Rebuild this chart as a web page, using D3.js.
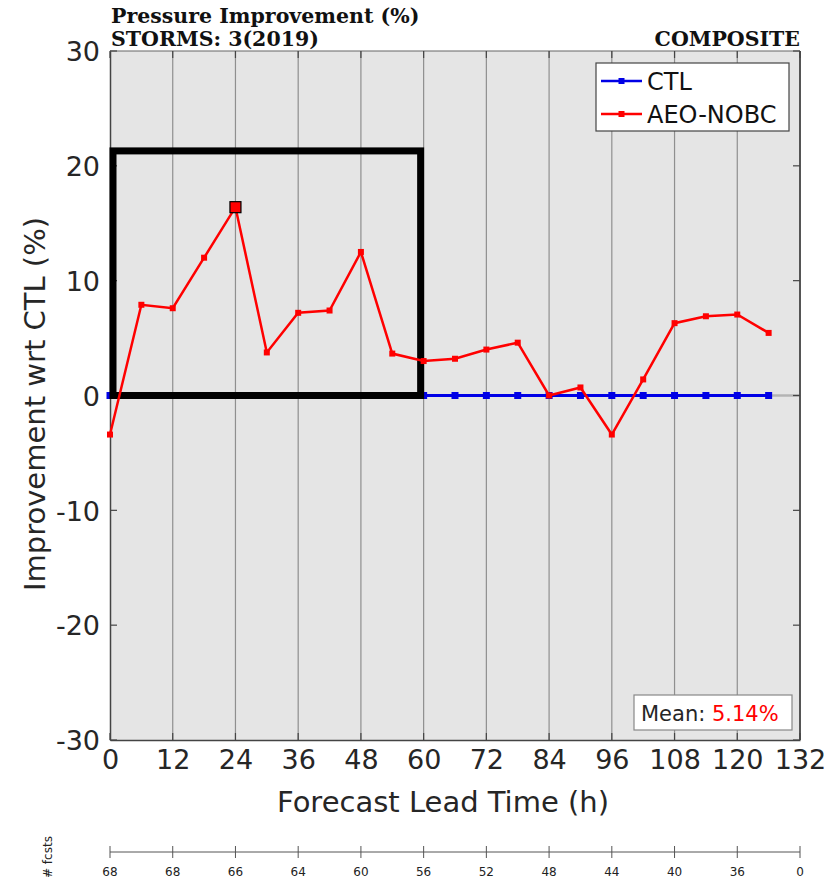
<!DOCTYPE html>
<html>
<head>
<meta charset="utf-8">
<script src="https://cdn.jsdelivr.net/npm/d3@7"></script>
<style>
  body { margin: 0; background: #fff; }
  svg { display: block; }
</style>
</head>
<body>
<svg id="chart" width="828" height="881"></svg>
<script>
// Forecast lead times (h) and pressure improvement relative to CTL (%)
const leadHours = [0, 6, 12, 18, 24, 30, 36, 42, 48, 54, 60, 66, 72, 78, 84, 90, 96, 102, 108, 114, 120, 126];
const ctlValues = [0, 0, 0, 0, 0, 0, 0, 0, 0, 0, 0, 0, 0, 0, 0, 0, 0, 0, 0, 0, 0, 0];
const aeoValues = [-3.4, 7.9, 7.6, 12.0, 16.4, 3.75, 7.2, 7.4, 12.5, 3.65, 3.0, 3.2, 4.0, 4.6, 0.0, 0.7, -3.4, 1.4, 6.3, 6.9, 7.05, 5.45];
const xTicks = [0, 12, 24, 36, 48, 60, 72, 84, 96, 108, 120, 132];
const yTicks = [-30, -20, -10, 0, 10, 20, 30];
const fcstCounts = [68, 68, 66, 64, 60, 56, 52, 48, 44, 40, 36, 0];
const seriesNames = ["CTL", "AEO-NOBC"];
const meanText = "5.14%";
const highlightHour = 24;
const boxHours = [0, 60];
const boxValues = [0, 21.3];

const svg = d3.select("#chart");
const L = 110, R = 800, T = 51, B = 740;
const x = d3.scaleLinear().domain([0, 132]).range([L, R]);
const y = d3.scaleLinear().domain([-30, 30]).range([B, T]);
const sans = "'DejaVu Sans', sans-serif";
const serif = "'DejaVu Serif', 'Liberation Serif', serif";
const intFmt = d => String(d); // plain hyphen-minus for negatives

// plot background
svg.append("rect").attr("x", L).attr("y", T).attr("width", R - L).attr("height", B - T)
  .attr("fill", "#e5e5e5");

// vertical grid lines
svg.append("g").selectAll("line").data(xTicks.slice(1, -1)).join("line")
  .attr("x1", d => x(d)).attr("x2", d => x(d)).attr("y1", T).attr("y2", B)
  .attr("stroke", "#8f8f8f").attr("stroke-width", 1.2);

// zero reference line
svg.append("line").attr("x1", L).attr("x2", R).attr("y1", y(0)).attr("y2", y(0))
  .attr("stroke", "#b4b4b4").attr("stroke-width", 2.5);

// axes
const xAxisG = svg.append("g").attr("transform", `translate(0,${B})`)
  .call(d3.axisBottom(x).tickValues(xTicks).tickSize(0).tickPadding(10).tickFormat(intFmt));
xAxisG.select(".domain").attr("stroke", "#444").attr("stroke-width", 1.5);
xAxisG.selectAll("text").attr("font-family", sans).attr("font-size", 27).attr("fill", "#262626");

const yAxisG = svg.append("g").attr("transform", `translate(${L},0)`)
  .call(d3.axisLeft(y).tickValues(yTicks).tickSize(0).tickPadding(10).tickFormat(intFmt));
yAxisG.select(".domain").attr("stroke", "#444").attr("stroke-width", 1.5);
yAxisG.selectAll("text").attr("font-family", sans).attr("font-size", 27).attr("fill", "#262626")
  .attr("dy", "0.36em");

// box outline top/right
svg.append("line").attr("x1", L).attr("x2", R).attr("y1", T).attr("y2", T).attr("stroke", "#666").attr("stroke-width", 1.2);
svg.append("line").attr("x1", R).attr("x2", R).attr("y1", T).attr("y2", B).attr("stroke", "#555").attr("stroke-width", 2);

// inward ticks
const tk = svg.append("g").attr("stroke", "#444").attr("stroke-width", 1.2);
xTicks.forEach(d => {
  tk.append("line").attr("x1", x(d)).attr("x2", x(d)).attr("y1", T).attr("y2", T + 7);
  tk.append("line").attr("x1", x(d)).attr("x2", x(d)).attr("y1", B).attr("y2", B - 7);
});
yTicks.forEach(d => {
  tk.append("line").attr("x1", L).attr("x2", L + 7).attr("y1", y(d)).attr("y2", y(d));
  tk.append("line").attr("x1", R).attr("x2", R - 7).attr("y1", y(d)).attr("y2", y(d));
});

const line = d3.line().x(d => x(d[0])).y(d => y(d[1]));

// CTL series
const ctl = leadHours.map((h, i) => [h, ctlValues[i]]);
svg.append("path").attr("d", line(ctl)).attr("fill", "none").attr("stroke", "#0000e6").attr("stroke-width", 3);
svg.append("g").selectAll("rect").data(ctl).join("rect")
  .attr("x", d => x(d[0]) - 3.5).attr("y", d => y(d[1]) - 3.5).attr("width", 7).attr("height", 7)
  .attr("fill", "#0000e6");

// highlighted window
svg.append("rect")
  .attr("x", x(boxHours[0]) + 3).attr("y", y(boxValues[1]))
  .attr("width", x(boxHours[1]) - x(boxHours[0]) - 6).attr("height", y(boxValues[0]) - y(boxValues[1]))
  .attr("fill", "none").attr("stroke", "#000").attr("stroke-width", 7);

// AEO-NOBC series
const aeo = leadHours.map((h, i) => [h, aeoValues[i]]);
svg.append("path").attr("d", line(aeo)).attr("fill", "none").attr("stroke", "#ff0000").attr("stroke-width", 2.5);
svg.append("g").selectAll("rect").data(aeo).join("rect")
  .attr("x", d => x(d[0]) - 3).attr("y", d => y(d[1]) - 3).attr("width", 6).attr("height", 6)
  .attr("fill", "#ff0000");

// peak marker
const hi = aeo[leadHours.indexOf(highlightHour)];
svg.append("rect").attr("x", x(hi[0]) - 5.5).attr("y", y(hi[1]) - 5.5).attr("width", 11).attr("height", 11)
  .attr("fill", "#ff0000").attr("stroke", "#000").attr("stroke-width", 1.2);

// axis labels
svg.append("text").attr("x", 443).attr("y", 812).attr("text-anchor", "middle")
  .attr("font-family", sans).attr("font-size", 29).attr("fill", "#262626").text("Forecast Lead Time (h)");
svg.append("text").attr("transform", `translate(45,404) rotate(-90)`).attr("text-anchor", "middle")
  .attr("font-family", sans).attr("font-size", 29).attr("fill", "#262626").text("Improvement wrt CTL (%)");

// titles
svg.append("text").attr("x", 111).attr("y", 23).attr("font-family", serif).attr("font-weight", "bold")
  .attr("font-size", 20.5).attr("fill", "#111").text("Pressure Improvement (%)");
svg.append("text").attr("x", 111).attr("y", 46).attr("font-family", serif).attr("font-weight", "bold")
  .attr("font-size", 20.5).attr("fill", "#111").text("STORMS: 3(2019)");
svg.append("text").attr("x", R).attr("y", 46).attr("text-anchor", "end").attr("font-family", serif).attr("font-weight", "bold")
  .attr("font-size", 20.5).attr("fill", "#111").text("COMPOSITE");

// legend
const lg = svg.append("g");
lg.append("rect").attr("x", 596).attr("y", 63).attr("width", 193).attr("height", 68)
  .attr("fill", "#fff").attr("stroke", "#444").attr("stroke-width", 1.2);
const lgColors = ["#0000e6", "#ff0000"];
seriesNames.forEach((n, i) => {
  const yy = 81 + i * 33;
  lg.append("line").attr("x1", 601).attr("x2", 642).attr("y1", yy).attr("y2", yy).attr("stroke", lgColors[i]).attr("stroke-width", 2.5);
  lg.append("rect").attr("x", 618.5).attr("y", yy - 3).attr("width", 6).attr("height", 6).attr("fill", lgColors[i]);
  lg.append("text").attr("x", 647).attr("y", yy).attr("dy", "0.36em").attr("font-family", sans)
    .attr("font-size", 24).attr("fill", "#111").text(n);
});

// mean annotation
svg.append("rect").attr("x", 634).attr("y", 695).attr("width", 158).attr("height", 35)
  .attr("fill", "#fff").attr("stroke", "#888").attr("stroke-width", 1.2);
const mt = svg.append("text").attr("x", 641).attr("y", 713).attr("dy", "0.36em")
  .attr("font-family", sans).attr("font-size", 21);
mt.append("tspan").attr("fill", "#262626").text("Mean: ");
mt.append("tspan").attr("fill", "#ff0000").text(meanText);

// forecast-count axis
const fy = 852;
const fx = d3.scaleLinear().domain([0, 132]).range([L, R]);
const fg = svg.append("g").attr("transform", `translate(0,${fy})`);
fg.append("line").attr("x1", L).attr("x2", R).attr("stroke", "#555").attr("stroke-width", 1);
fg.selectAll(".t").data(xTicks).join("line").attr("class", "t")
  .attr("x1", d => fx(d)).attr("x2", d => fx(d)).attr("y1", -6).attr("y2", 6)
  .attr("stroke", "#555").attr("stroke-width", 1);
fg.selectAll("text").data(xTicks).join("text")
  .attr("x", d => fx(d)).attr("y", 20).attr("dy", "0.36em").attr("text-anchor", "middle")
  .attr("font-family", sans).attr("font-size", 12).attr("fill", "#222")
  .text((d, i) => fcstCounts[i]);
svg.append("text").attr("transform", `translate(52,878) rotate(-90)`).attr("font-family", sans)
  .attr("font-size", 12).attr("fill", "#222").text("# fcsts");
</script>
</body>
</html>
